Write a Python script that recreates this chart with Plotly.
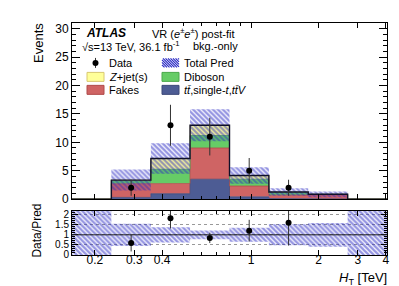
import math
import plotly.graph_objects as go

# ---------------- data ----------------
edges = [0.158, 0.237, 0.356, 0.533, 0.8, 1.2, 1.8, 2.7, 4.05]   # H_T bin edges [TeV]
ttbar   = [0, 0.30, 0.95, 3.50, 0.40, 0.10, 0.05, 0]
fakes   = [0, 2.40, 1.80, 5.50, 1.90, 0.60, 0.70, 0]
diboson = [0, 0.55, 2.50, 2.20, 1.20, 0.45, 0.10, 0]
zjets   = [0, 0.10, 1.90, 1.80, 0.65, 0.10, 0.00, 0]
uncert  = [0, 1.85, 2.70, 2.80, 1.45, 0.65, 0.50, 0]
data    = [0, 2, 13, 11, 5, 2, 0, 0]

x_tickvals = [0.2, 0.3, 0.4, 1, 2, 3, 4]
x_ticktext = ["0.2", "0.3", "0.4", "1", "2", "3", "4"]
x_minor = [0.5, 0.6, 0.7, 0.8, 0.9]
r_tickvals = [0, 0.5, 1, 1.5, 2]
r_ticktext = ["0", "0.5", "1", "1.5", "2"]

Y_MAX = 31
R_MAX = 2.2

C_TT = "#4d5c94"
C_FK = "#cf6464"
C_DB = "#66cc66"
C_ZJ = "#ffff99"
C_HATCH = "#2a2ac4"
FONT = "Liberation Sans"
HATCH = dict(shape="\\", fgcolor=C_HATCH, bgcolor="rgba(0,0,0,0)", size=3.5, solidity=0.65)

# ---------------- helpers ----------------
nb = len(edges) - 1
centers = [math.sqrt(edges[i] * edges[i + 1]) for i in range(nb)]


def steps(vals, idx=None):
    idx = range(nb) if idx is None else idx
    xs, ys = [], []
    for i in idx:
        xs += [edges[i], edges[i + 1]]
        ys += [vals[i], vals[i]]
    return xs, ys


total = [ttbar[i] + fakes[i] + diboson[i] + zjets[i] for i in range(nb)]

fig = go.Figure()

# stacked components
comps = [("tt", ttbar, C_TT, "#3c4878"), ("fk", fakes, C_FK, "#b04a4a"),
         ("db", diboson, C_DB, "#4aa84a"), ("zj", zjets, C_ZJ, "#d8c870")]
cum = [0.0] * nb
for k, (name, vals, col, lcol) in enumerate(comps):
    cum = [cum[i] + vals[i] for i in range(nb)]
    xs, ys = steps(cum)
    fig.add_trace(go.Scatter(x=xs, y=ys, mode="lines", line=dict(color=lcol, width=0.8),
                             fill="tozeroy" if k == 0 else "tonexty", fillcolor=col,
                             showlegend=False, hoverinfo="skip", xaxis="x", yaxis="y"))

# uncertainty band (main)
nz = [i for i in range(nb) if total[i] > 0]
ux, uy = steps([total[i] + uncert[i] for i in range(nb)], nz)
lx, ly = steps([total[i] - uncert[i] for i in range(nb)], nz)
fig.add_trace(go.Scatter(x=ux + lx[::-1], y=uy + ly[::-1], mode="lines", line=dict(width=0),
                         fill="toself", fillcolor="rgba(0,0,0,0)", fillpattern=HATCH,
                         showlegend=False, hoverinfo="skip", xaxis="x", yaxis="y"))

# total outline
tx, ty = steps(total)
fig.add_trace(go.Scatter(x=tx, y=ty, mode="lines", line=dict(color="#10102a", width=1.4),
                         showlegend=False, hoverinfo="skip", xaxis="x", yaxis="y"))

# data points
dpts = [i for i in range(nb) if data[i] > 0]
fig.add_trace(go.Scatter(x=[centers[i] for i in dpts], y=[data[i] for i in dpts], mode="markers",
                         marker=dict(color="black", size=6),
                         error_y=dict(type="data", array=[math.sqrt(data[i]) for i in dpts],
                                      color="#333333", thickness=1, width=0),
                         showlegend=False, xaxis="x", yaxis="y"))

# ratio band
rel_up, rel_dn = [], []
for i in range(nb):
    if total[i] > 0:
        rel_up.append(1 + uncert[i] / total[i])
        rel_dn.append(max(0.0, 1 - uncert[i] / total[i]))
    else:
        rel_up.append(R_MAX)
        rel_dn.append(0.0)
rux, ruy = steps(rel_up)
rlx, rly = steps(rel_dn)
fig.add_trace(go.Scatter(x=rux + rlx[::-1], y=ruy + rly[::-1], mode="lines", line=dict(width=0),
                         fill="toself", fillcolor="rgba(0,0,0,0)", fillpattern=HATCH,
                         showlegend=False, hoverinfo="skip", xaxis="x2", yaxis="y2"))

# ratio data
rpts = [i for i in range(nb) if data[i] > 0 and total[i] > 0]
fig.add_trace(go.Scatter(x=[centers[i] for i in rpts], y=[data[i] / total[i] for i in rpts],
                         mode="markers", marker=dict(color="black", size=6),
                         error_y=dict(type="data", array=[math.sqrt(data[i]) / total[i] for i in rpts],
                                      color="#333333", thickness=1, width=0),
                         showlegend=False, xaxis="x2", yaxis="y2"))

# ---------------- layout ----------------
W, H = 399, 286
ML, MR, MT, MB = 64, 20, 15, 38.5
PW, PH = W - ML - MR, H - MT - MB


def px(xp):
    return (xp - ML) / PW


def py(yp):
    return (H - MB - yp) / PH


main_dom = [py(191.5), 1.0]
rat_dom = [0.0, py(203)]
xr = [math.log10(edges[0]), math.log10(edges[-1])]

axis_common = dict(showline=True, linecolor="black", linewidth=1, mirror="ticks",
                   ticks="inside", tickcolor="black", zeroline=False)
FT12 = dict(family=FONT, size=12, color="black")

fig.update_layout(
    width=W, height=H, margin=dict(l=ML, r=MR, t=MT, b=MB),
    paper_bgcolor="white", plot_bgcolor="white", showlegend=False,
    xaxis=dict(type="log", range=xr, domain=[0, 1], anchor="y", tickvals=x_tickvals,
               ticktext=x_ticktext, showticklabels=False, ticklen=5, showgrid=False,
               minor=dict(tickvals=x_minor, ticks="inside", ticklen=3, tickcolor="black"),
               tickfont=FT12, **axis_common),
    yaxis=dict(range=[0, Y_MAX], domain=main_dom, anchor="x", dtick=5, ticklen=8, showgrid=False,
               minor=dict(dtick=1, ticks="inside", ticklen=4, tickcolor="black"),
               tickfont=FT12, **axis_common),
    xaxis2=dict(type="log", range=xr, domain=[0, 1], anchor="y2", matches="x",
                tickvals=x_tickvals, ticktext=x_ticktext, ticklen=5, showgrid=False,
                ticklabelstandoff=-6,
                minor=dict(tickvals=x_minor, ticks="inside", ticklen=3, tickcolor="black"),
                tickfont=FT12, **axis_common),
    yaxis2=dict(range=[0, R_MAX], domain=rat_dom, anchor="x2", tickvals=r_tickvals,
                ticktext=r_ticktext, ticklen=6,
                minor=dict(dtick=0.1, ticks="inside", ticklen=3, tickcolor="black"),
                showgrid=True, gridcolor="#999999", griddash="dot", gridwidth=1,
                tickfont=dict(family=FONT, size=10, color="black"), **axis_common),
)

# reference line at 1 in ratio
fig.add_hline(y=1, line=dict(color="#222222", width=1), xref="x2", yref="y2")

ann = []
ann.append(dict(text="Events", x=px(30), y=py(13), xref="paper", yref="paper", textangle=-90,
                xanchor="center", yanchor="top", showarrow=False,
                font=dict(family=FONT, size=13, color="black")))
ann.append(dict(text="Data/Pred", x=px(29), y=py(223), xref="paper", yref="paper", textangle=-90,
                xanchor="center", yanchor="middle", showarrow=False,
                font=dict(family=FONT, size=12, color="black")))
ann.append(dict(text="<i>H</i><sub>T</sub> [TeV]", x=px(381), y=py(271), xref="paper", yref="paper",
                xanchor="right", yanchor="middle", showarrow=False,
                font=dict(family=FONT, size=13, color="black")))
ann.append(dict(text="<b><i>ATLAS</i></b>", x=px(76), y=py(25), xref="paper", yref="paper",
                xanchor="left", yanchor="middle", showarrow=False,
                font=dict(family=FONT, size=12, color="black")))
ann.append(dict(text="VR (<i>e</i><sup>±</sup><i>e</i><sup>±</sup>) post-fit", x=px(142), y=py(25),
                xref="paper", yref="paper", xanchor="left", yanchor="middle", showarrow=False,
                font=dict(family=FONT, size=11, color="black")))
ann.append(dict(text="√s=13 TeV, 36.1 fb<sup>-1</sup>", x=px(72), y=py(38), xref="paper",
                yref="paper", xanchor="left", yanchor="middle", showarrow=False,
                font=dict(family=FONT, size=11, color="black")))
ann.append(dict(text="bkg.-only", x=px(183), y=py(38), xref="paper", yref="paper",
                xanchor="left", yanchor="middle", showarrow=False,
                font=dict(family=FONT, size=11, color="black")))

# legend (manual)
rows = [55, 69, 82]
col1_box, col2_box = 79, 154
bw, bh = 17, 9
leg_text = [("Data", col1_box, rows[0]), ("<i>Z</i>+jet(s)", col1_box, rows[1]),
            ("Fakes", col1_box, rows[2]), ("Total Pred", col2_box, rows[0]),
            ("Diboson", col2_box, rows[1]),
            ("<i>t</i><i>t̄</i>,single-<i>t</i>,<i>t</i><i>t̄</i><i>V</i>", col2_box, rows[2])]
for t, xb, yr in leg_text:
    ann.append(dict(text=t, x=px(xb + bw + 3), y=py(yr), xref="paper", yref="paper",
                    xanchor="left", yanchor="middle", showarrow=False,
                    font=dict(family=FONT, size=11, color="black")))

shapes = []
for (xb, yr, col, lcol) in [(col1_box, rows[1], C_ZJ, "#d8c870"), (col1_box, rows[2], C_FK, "#b04a4a"),
                            (col2_box, rows[1], C_DB, "#4aa84a"), (col2_box, rows[2], C_TT, "#3c4878")]:
    shapes.append(dict(type="rect", xref="paper", yref="paper", x0=px(xb), x1=px(xb + bw),
                       y0=py(yr + bh / 2), y1=py(yr - bh / 2), fillcolor=col,
                       line=dict(color=lcol, width=1)))
# data marker in legend
mx = col1_box + bw / 2
shapes.append(dict(type="line", xref="paper", yref="paper", x0=px(mx), x1=px(mx),
                   y0=py(rows[0] + 5), y1=py(rows[0] - 5), line=dict(color="#333333", width=1)))
shapes.append(dict(type="circle", xref="paper", yref="paper", x0=px(mx - 3), x1=px(mx + 3),
                   y0=py(rows[0] + 3), y1=py(rows[0] - 3), fillcolor="black", line=dict(width=0)))
# hatched box for Total Pred
x0, y0 = col2_box, rows[0] - bh / 2
path = ""
c = -bh
while c < bw:
    t0, t1 = max(0, -c), min(bh, bw - c)
    if t1 > t0:
        path += "M{:.4f},{:.4f} L{:.4f},{:.4f} ".format(px(x0 + c + t0), py(y0 + t0),
                                                       px(x0 + c + t1), py(y0 + t1))
    c += 2.5
shapes.append(dict(type="path", xref="paper", yref="paper", path=path.strip(),
                   line=dict(color=C_HATCH, width=1.2)))

fig.update_layout(annotations=ann, shapes=list(fig.layout.shapes) + shapes)

fig.write_html("out.html")
